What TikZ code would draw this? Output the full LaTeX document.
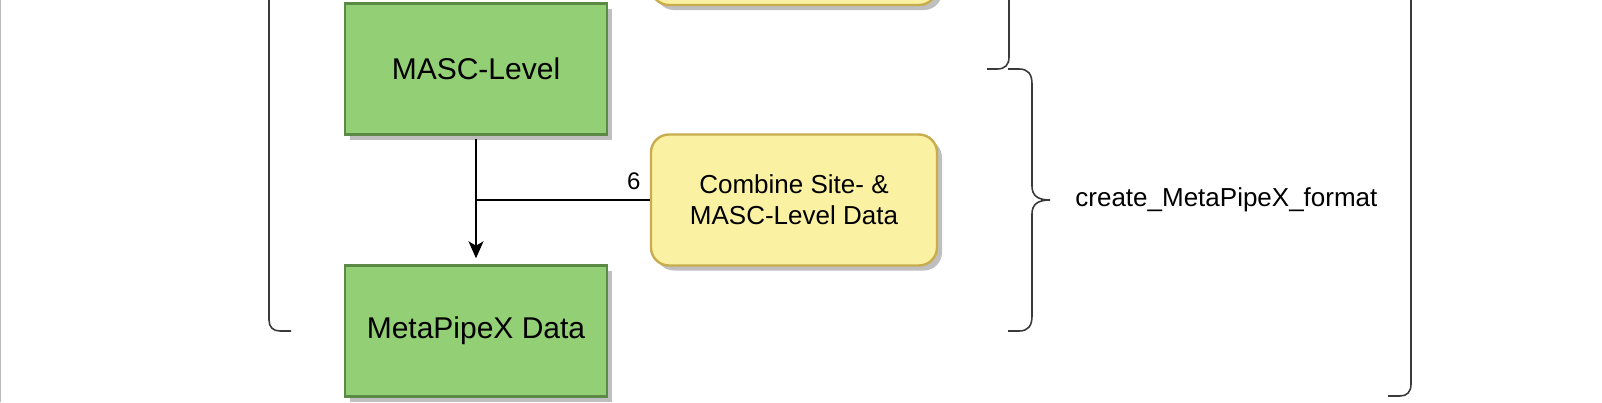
\documentclass[tikz,border=0pt]{standalone}
\usepackage{fontspec}
\setmainfont{Liberation Sans}
\usetikzlibrary{arrows.meta,shadows}
\definecolor{gfill}{HTML}{93CF75}
\definecolor{gline}{HTML}{5A8A46}
\definecolor{yfill}{HTML}{FAF1A3}
\definecolor{yline}{HTML}{C8AD4C}
\definecolor{brace}{HTML}{3A3A3A}
\tikzset{
  sh/.style={drop shadow={shadow xshift=2.5pt,shadow yshift=-2.5pt,fill=black,opacity=0.25}},
  greenbox/.style={sh,rectangle,draw=gline,fill=gfill,line width=1.2pt,
    minimum width=131pt,minimum height=65.5pt,inner sep=0pt,
    font=\fontsize{15}{18}\selectfont},
  yellowbox/.style={sh,rectangle,rounded corners=9pt,draw=yline,fill=yfill,line width=1.2pt,
    minimum width=143pt,minimum height=65.5pt,inner sep=0pt,align=center,
    font=\fontsize{13}{15.5}\selectfont},
  conn/.style={line width=0.8pt,black},
  bracel/.style={line width=0.8pt,brace},
  lbl/.style={font=\fontsize{13}{15.5}\selectfont,inner sep=0pt},
  elbl/.style={font=\fontsize{12}{14}\selectfont,inner sep=0pt}
}
\begin{document}
\begin{tikzpicture}[x=0.5pt,y=-0.5pt]
\useasboundingbox (0,0) rectangle (1602,402);
\clip (0,0) rectangle (1602,402);
\fill[white] (0,0) rectangle (1602,402);
% page border at the left
\draw[gray!55,line width=0.6pt] (0.8,0) -- (0.8,402);
% nodes
\node[yellowbox] (top) at (794,-60.5) {};
\node[greenbox] (masc) at (476,69) {MASC-Level};
\node[greenbox] (meta) at (476,331) {MetaPipeX Data};
\node[yellowbox] (comb) at (794,200) {Combine Site- \&\\MASC-Level Data};
% connectors
\coordinate (j) at (comb.west -| masc.south);
\draw[conn,-{Stealth[length=8.5pt,width=7.5pt,inset=2.2pt]},shorten <=1.8pt,shorten >=3pt] (masc.south) -- (meta.north);
\draw[conn] (comb.west) -- (j);
\node[elbl,anchor=south east] (six) at ([xshift=-4.5pt,yshift=5pt]comb.west) {6};
% left bracket
\draw[bracel] (269,-20) -- (269,320) .. controls (269,327) and (273,331) .. (280,331) -- (291,331);
% upper brace end
\draw[bracel] (987,69) -- (997,69) .. controls (1005,69) and (1009,65) .. (1009,57) -- (1009,-20);
% lower brace
\draw[bracel] (1008,69) -- (1019,69) .. controls (1028,69) and (1032,74) .. (1032,84)
  -- (1032,186) .. controls (1032,195) and (1037,200) .. (1050,200)
  .. controls (1037,200) and (1032,205) .. (1032,214)
  -- (1032,316) .. controls (1032,326) and (1028,331) .. (1019,331) -- (1008,331);
\node[lbl,anchor=west] (fmt) at (1075,200) {create\_MetaPipeX\_format};
% right bracket
\draw[bracel] (1411,-20) -- (1411,384) .. controls (1411,392) and (1407,396) .. (1400,396) -- (1388,396);
\end{tikzpicture}
\end{document}
